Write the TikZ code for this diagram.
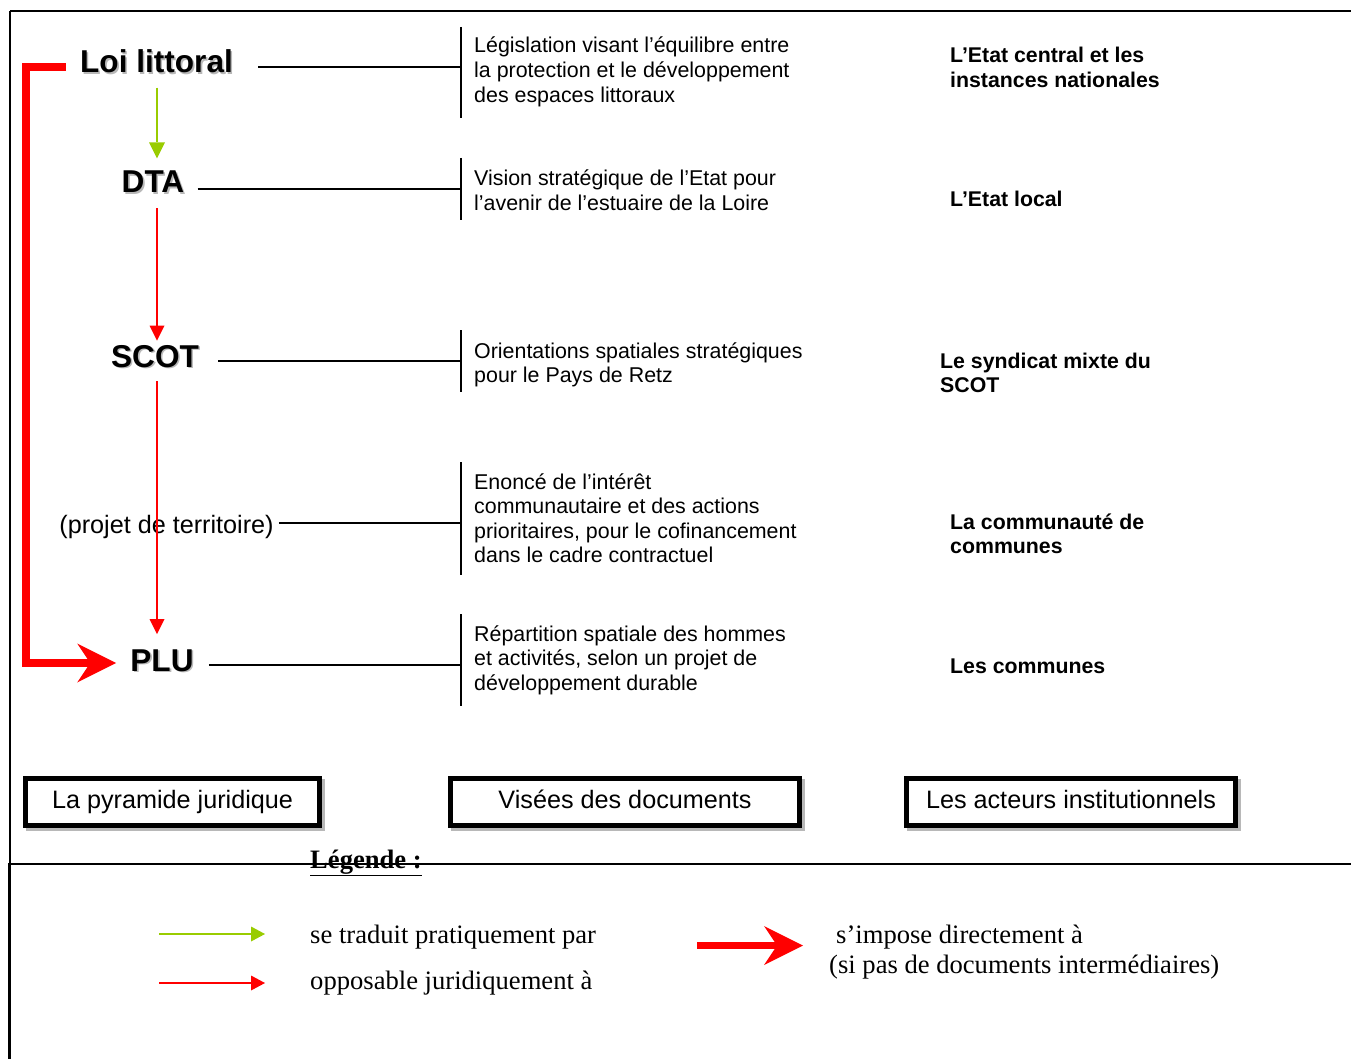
\documentclass[tikz,border=0pt]{standalone}
\usepackage{fontspec}
\setmainfont{Liberation Serif}
\newfontfamily\arial{Liberation Sans}
\usetikzlibrary{arrows.meta,shadows}
\definecolor{lgreen}{RGB}{153,204,0}
\newcommand\blk[1]{\begin{tabular}[t]{@{}l@{}}#1\end{tabular}}
\newcommand\shtext[1]{\makebox[0pt][l]{\hspace{1.6pt}\raisebox{-1.6pt}{\color{black!28}#1}}#1}
\begin{document}
\begin{tikzpicture}[x=1pt,y=-1pt,
  title/.style={font=\arial\bfseries\fontsize{31.6}{36}\selectfont, inner sep=0pt, anchor=base},
  desc/.style={font=\arial\fontsize{21.4}{24.6}\selectfont, inner sep=0pt, anchor=base west},
  actor/.style={font=\arial\bfseries\fontsize{21.3}{24.6}\selectfont, inner sep=0pt, anchor=base west},
  bar/.style={line width=1.4pt},
  link/.style={line width=1.4pt},
  colbox/.style={draw, line width=5pt, fill=white, font=\arial\fontsize{25.2}{30}\selectfont,
    minimum height=47pt, inner sep=0pt, text height=18pt, text depth=5pt,
    general shadow={draw=black!28, line width=5pt, shadow xshift=2.5pt, shadow yshift=-2.5pt}},
  garrow/.style={draw=lgreen, line width=2pt, -{Triangle[length=16pt,width=16pt,line width=0pt]}},
  rarrow/.style={draw=red, line width=1.5pt, -{Triangle[length=15pt,width=15pt,line width=0pt]}},
  bigarrow/.style={draw=red, line width=7.5pt, line join=miter, -{Stealth[length=39pt,width=39pt,inset=13pt,line width=0pt]}},
  frame/.style={line width=2.2pt},
  leg/.style={font=\fontsize{26.6}{30}\selectfont, inner sep=0pt, anchor=base west}
]
\useasboundingbox (0,0) rectangle (1351,1059);
\fill[white] (0,0) rectangle (1351,1059);

% frame
\draw[frame] (10,11) -- (1351,11);
\draw[frame] (10,11) -- (10,864);
\draw[frame] (8,864) -- (1351,864);
\draw[line width=3pt] (9.5,864) -- (9.5,1059);

% titles
\node[title] (loi) at (156.5,73) {\shtext{Loi littoral}};
\node[title] (dta) at (153,193) {\shtext{DTA}};
\node[title] (scot) at (155,367) {\shtext{SCOT}};
\node[font=\arial\fontsize{25.2}{30}\selectfont, inner sep=0pt, anchor=base] (proj) at (166.5,533) {(projet de territoire)};
\node[title] (plu) at (162,671) {\shtext{PLU}};

% bars
\draw[bar] (461,27) -- (461,118);
\draw[bar] (461,158) -- (461,220);
\draw[bar] (461,330) -- (461,392);
\draw[bar] (461,462) -- (461,575);
\draw[bar] (461,614) -- (461,706);

\coordinate (j1) at (461,67);
\coordinate (j2) at (461,189);
\coordinate (j3) at (461,361);
\coordinate (j4) at (461,523);
\coordinate (j5) at (461,665);
\draw[link] ([xshift=25pt,yshift=6pt]loi.base east) -- (j1);
\draw[link] ([xshift=13pt,yshift=4pt]dta.base east) -- (j2);
\draw[link] ([xshift=19pt,yshift=6pt]scot.base east) -- (j3);
\draw[link] ([xshift=5pt,yshift=10pt]proj.base east) -- (j4);
\draw[link] ([xshift=15pt,yshift=6pt]plu.base east) -- (j5);

% descriptions
\node[desc] (d1) at (474,53) {\blk{Législation visant l’équilibre entre\\la protection et le développement\\des espaces littoraux}};
\node[desc] (d2) at (474,186) {\blk{Vision stratégique de l’Etat pour\\l’avenir de l’estuaire de la Loire}};
\node[desc] (d3) at (474,358) {\blk{Orientations spatiales stratégiques\\pour le Pays de Retz}};
\node[desc] (d4) at (474,489) {\blk{Enoncé de l’intérêt\\communautaire et des actions\\prioritaires, pour le cofinancement\\dans le cadre contractuel}};
\node[desc] (d5) at (474,641) {\blk{Répartition spatiale des hommes\\et activités, selon un projet de\\développement durable}};

% actors
\node[actor] (a1) at (950,63) {\blk{L’Etat central et les\\instances nationales}};
\node[actor] (a2) at (950,207) {L’Etat local};
\node[actor] (a3) at (940,368) {\blk{Le syndicat mixte du\\SCOT}};
\node[actor] (a4) at (950,529) {\blk{La communauté de\\communes}};
\node[actor] (a5) at (950,673) {Les communes};

% hierarchy arrows
\coordinate (sp) at (157,0);
\draw[garrow, shorten <=12.4pt, shorten >=12.8pt] (loi.south -| sp) -- (dta.north -| sp);
\draw[rarrow, shorten <=13.4pt, shorten >=4pt] (dta.south -| sp) -- (scot.north -| sp);
\draw[rarrow, shorten <=12pt, shorten >=15pt] (scot.south -| sp) -- (plu.north -| sp);
\draw[bigarrow] ([xshift=-14pt,yshift=6pt]loi.base west) -- ++(-40pt,0) |- ([xshift=-14pt,yshift=8pt]plu.base west);

% column boxes
\node[colbox, minimum width=294pt] (b1) at (172.5,802) {La pyramide juridique};
\node[colbox, minimum width=349pt] (b2) at (625,802) {Visées des documents};
\node[colbox, minimum width=329pt] (b3) at (1071,802) {Les acteurs institutionnels};

% legend
\node[font=\bfseries\fontsize{26.6}{30}\selectfont, inner sep=0pt, anchor=base west] (lg) at (310,868) {\underline{Légende :}};
\coordinate (g1) at (159,934);
\coordinate (g2) at (265,934);
\coordinate (r1) at (159,983);
\coordinate (r2) at (265,983);
\coordinate (k1) at (697,945.5);
\coordinate (k2) at (803,945.5);
\draw[draw=lgreen, line width=2pt, -{Triangle[length=14pt,width=15pt,line width=0pt]}] (g1) -- (g2);
\draw[draw=red, line width=1.6pt, -{Triangle[length=14pt,width=15pt,line width=0pt]}] (r1) -- (r2);
\draw[bigarrow] (k1) -- (k2);
\node[leg] (t1) at (310,943) {se traduit pratiquement par};
\node[leg] (t2) at (310,989) {opposable juridiquement à};
\node[leg] (t3) at (836,943) {s’impose directement à};
\node[leg] (t4) at (829,973) {(si pas de documents intermédiaires)};
\end{tikzpicture}
\end{document}
